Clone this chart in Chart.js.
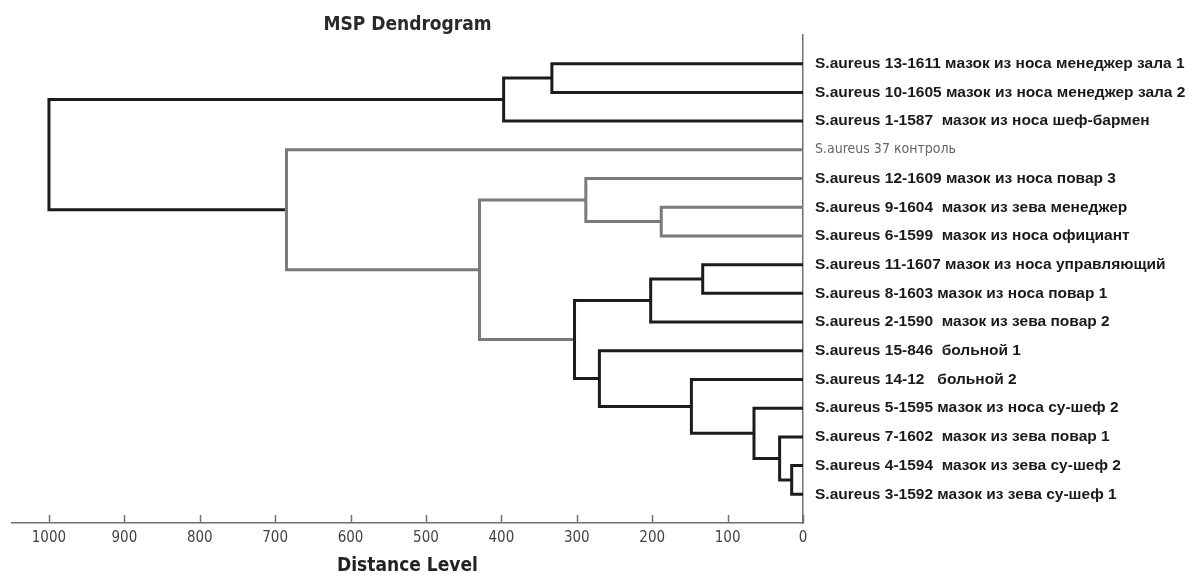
<!DOCTYPE html>
<html>
<head>
<meta charset="utf-8">
<title>MSP Dendrogram</title>
<script src="https://cdn.jsdelivr.net/npm/chart.js@4.4.1/dist/chart.umd.min.js"></script>
<style>
  html, body { margin: 0; padding: 0; background: #fff; }
  #wrap { position: relative; width: 1192px; height: 576px; }
</style>
</head>
<body>
<div id="wrap"><canvas id="dendro"></canvas></div>
<script>
/* ---- Data ---------------------------------------------------- */

// Leaf labels, in the order they appear from top to bottom
const leafLabels = [
  'S.aureus 13-1611 мазок из носа менеджер зала 1',
  'S.aureus 10-1605 мазок из носа менеджер зала 2',
  'S.aureus 1-1587  мазок из носа шеф-бармен',
  'S.aureus 37 контроль',
  'S.aureus 12-1609 мазок из носа повар 3',
  'S.aureus 9-1604  мазок из зева менеджер',
  'S.aureus 6-1599  мазок из носа официант',
  'S.aureus 11-1607 мазок из носа управляющий',
  'S.aureus 8-1603 мазок из носа повар 1',
  'S.aureus 2-1590  мазок из зева повар 2',
  'S.aureus 15-846  больной 1',
  'S.aureus 14-12   больной 2',
  'S.aureus 5-1595 мазок из носа су-шеф 2',
  'S.aureus 7-1602  мазок из зева повар 1',
  'S.aureus 4-1594  мазок из зева су-шеф 2',
  'S.aureus 3-1592 мазок из зева су-шеф 1',
];
const controlLeaf = 3;

// Linkage table. Ids below 16 are leaves; merge k creates node 16 + k.
const mergeLeft  = [0, 16, 5, 4, 14, 13, 12, 11, 10, 7, 25, 26, 19, 3, 17];
const mergeRight = [1, 2, 6, 18, 15, 20, 21, 22, 23, 8, 9, 24, 27, 28, 29];
const mergeDist  = [333, 397, 188, 288, 15, 31, 65, 148, 270, 133, 202, 303, 429, 685, 1000];

const distanceTicks = [0, 100, 200, 300, 400, 500, 600, 700, 800, 900, 1000];

/* ---- Styles -------------------------------------------------- */

const INK = '#1c1c1c';
const GREY = '#7a7a7a';
const AXIS = '#707070';
const NARROW = "'DejaVu Sans Condensed', 'Liberation Sans Narrow', 'Liberation Sans', sans-serif";
const WIDE = "'Liberation Sans', Arial, sans-serif";
const GREY_NODES = new Set([18, 19, 28, 29]);   // control branch drawn in grey

/* ---- Build the U-shaped links from the linkage --------------- */

const nLeaves = leafLabels.length;
const nodeY = leafLabels.map((_, i) => i);
const nodeH = leafLabels.map(() => 0);

const datasets = mergeDist.map((d, k) => {
  const a = mergeLeft[k], b = mergeRight[k];
  const ya = nodeY[a], yb = nodeY[b];
  nodeY.push((ya + yb) / 2);
  nodeH.push(d);
  const color = GREY_NODES.has(nLeaves + k) ? GREY : INK;
  return {
    data: [
      { x: nodeH[a], y: ya }, { x: d, y: ya },
      { x: d, y: yb }, { x: nodeH[b], y: yb },
    ],
    showLine: true,
    borderColor: color,
    borderWidth: 3,
    borderJoinStyle: 'miter',
    pointRadius: 0,
    tension: 0,
  };
});

/* ---- Tick marks pointing up into the plot -------------------- */

const innerTicks = {
  id: 'innerTicks',
  afterDraw(chart) {
    const sx = chart.scales.x, ctx = chart.ctx;
    ctx.save();
    ctx.strokeStyle = AXIS;
    ctx.lineWidth = 1.5;
    distanceTicks.forEach(v => {
      const px = Math.round(sx.getPixelForValue(v)) + 0.5;
      ctx.beginPath();
      ctx.moveTo(px, sx.top);
      ctx.lineTo(px, sx.top - 8);
      ctx.stroke();
    });
    ctx.restore();
  },
};

new Chart(document.getElementById('dendro'), {
  type: 'scatter',
  data: { datasets },
  plugins: [innerTicks],
  options: {
    responsive: true,
    maintainAspectRatio: false,
    animation: false,
    layout: { padding: { left: 12 } },
    plugins: {
      legend: { display: false },
      tooltip: { enabled: false },
      title: {
        display: true,
        fullSize: false,
        text: 'MSP Dendrogram',
        color: '#2a2a2a',
        font: { family: NARROW, size: 19, weight: 'bold', lineHeight: 1 },
        padding: { top: 16, bottom: 0 },
      },
    },
    scales: {
      x: {
        type: 'linear',
        reverse: true,
        min: 0,
        max: 1049,
        afterFit: s => { s.height = 53; },
        afterBuildTicks: s => { s.ticks = distanceTicks.map(v => ({ value: v })); },
        grid: { display: false, drawTicks: false },
        border: { display: true, color: AXIS, width: 1.5 },
        ticks: {
          padding: 6,
          color: '#444',
          font: { family: NARROW, size: 15 },
          maxRotation: 0,
          callback: v => String(v),
        },
        title: {
          display: true,
          text: 'Distance Level',
          color: '#222',
          font: { family: NARROW, size: 19, weight: 'bold', lineHeight: 1.2 },
          padding: { top: 0, bottom: -1 },
        },
      },
      y: {
        type: 'linear',
        position: 'right',
        reverse: true,
        min: -1,
        max: 16,
        afterFit: s => { s.width = 389; },
        afterBuildTicks: s => { s.ticks = leafLabels.map((_, i) => ({ value: i })); },
        grid: { display: false, drawTicks: false },
        border: { display: true, color: AXIS, width: 1.5 },
        ticks: {
          padding: 12,
          autoSkip: false,
          callback: v => leafLabels[v] ?? '',
          color: c => (c.tick && c.tick.value === controlLeaf ? '#666' : '#1a1a1a'),
          font: c => (c.tick && c.tick.value === controlLeaf
            ? { family: NARROW, size: 14, weight: 'normal' }
            : { family: WIDE, size: 15.5, weight: 'bold' }),
        },
      },
    },
  },
});
</script>
</body>
</html>
